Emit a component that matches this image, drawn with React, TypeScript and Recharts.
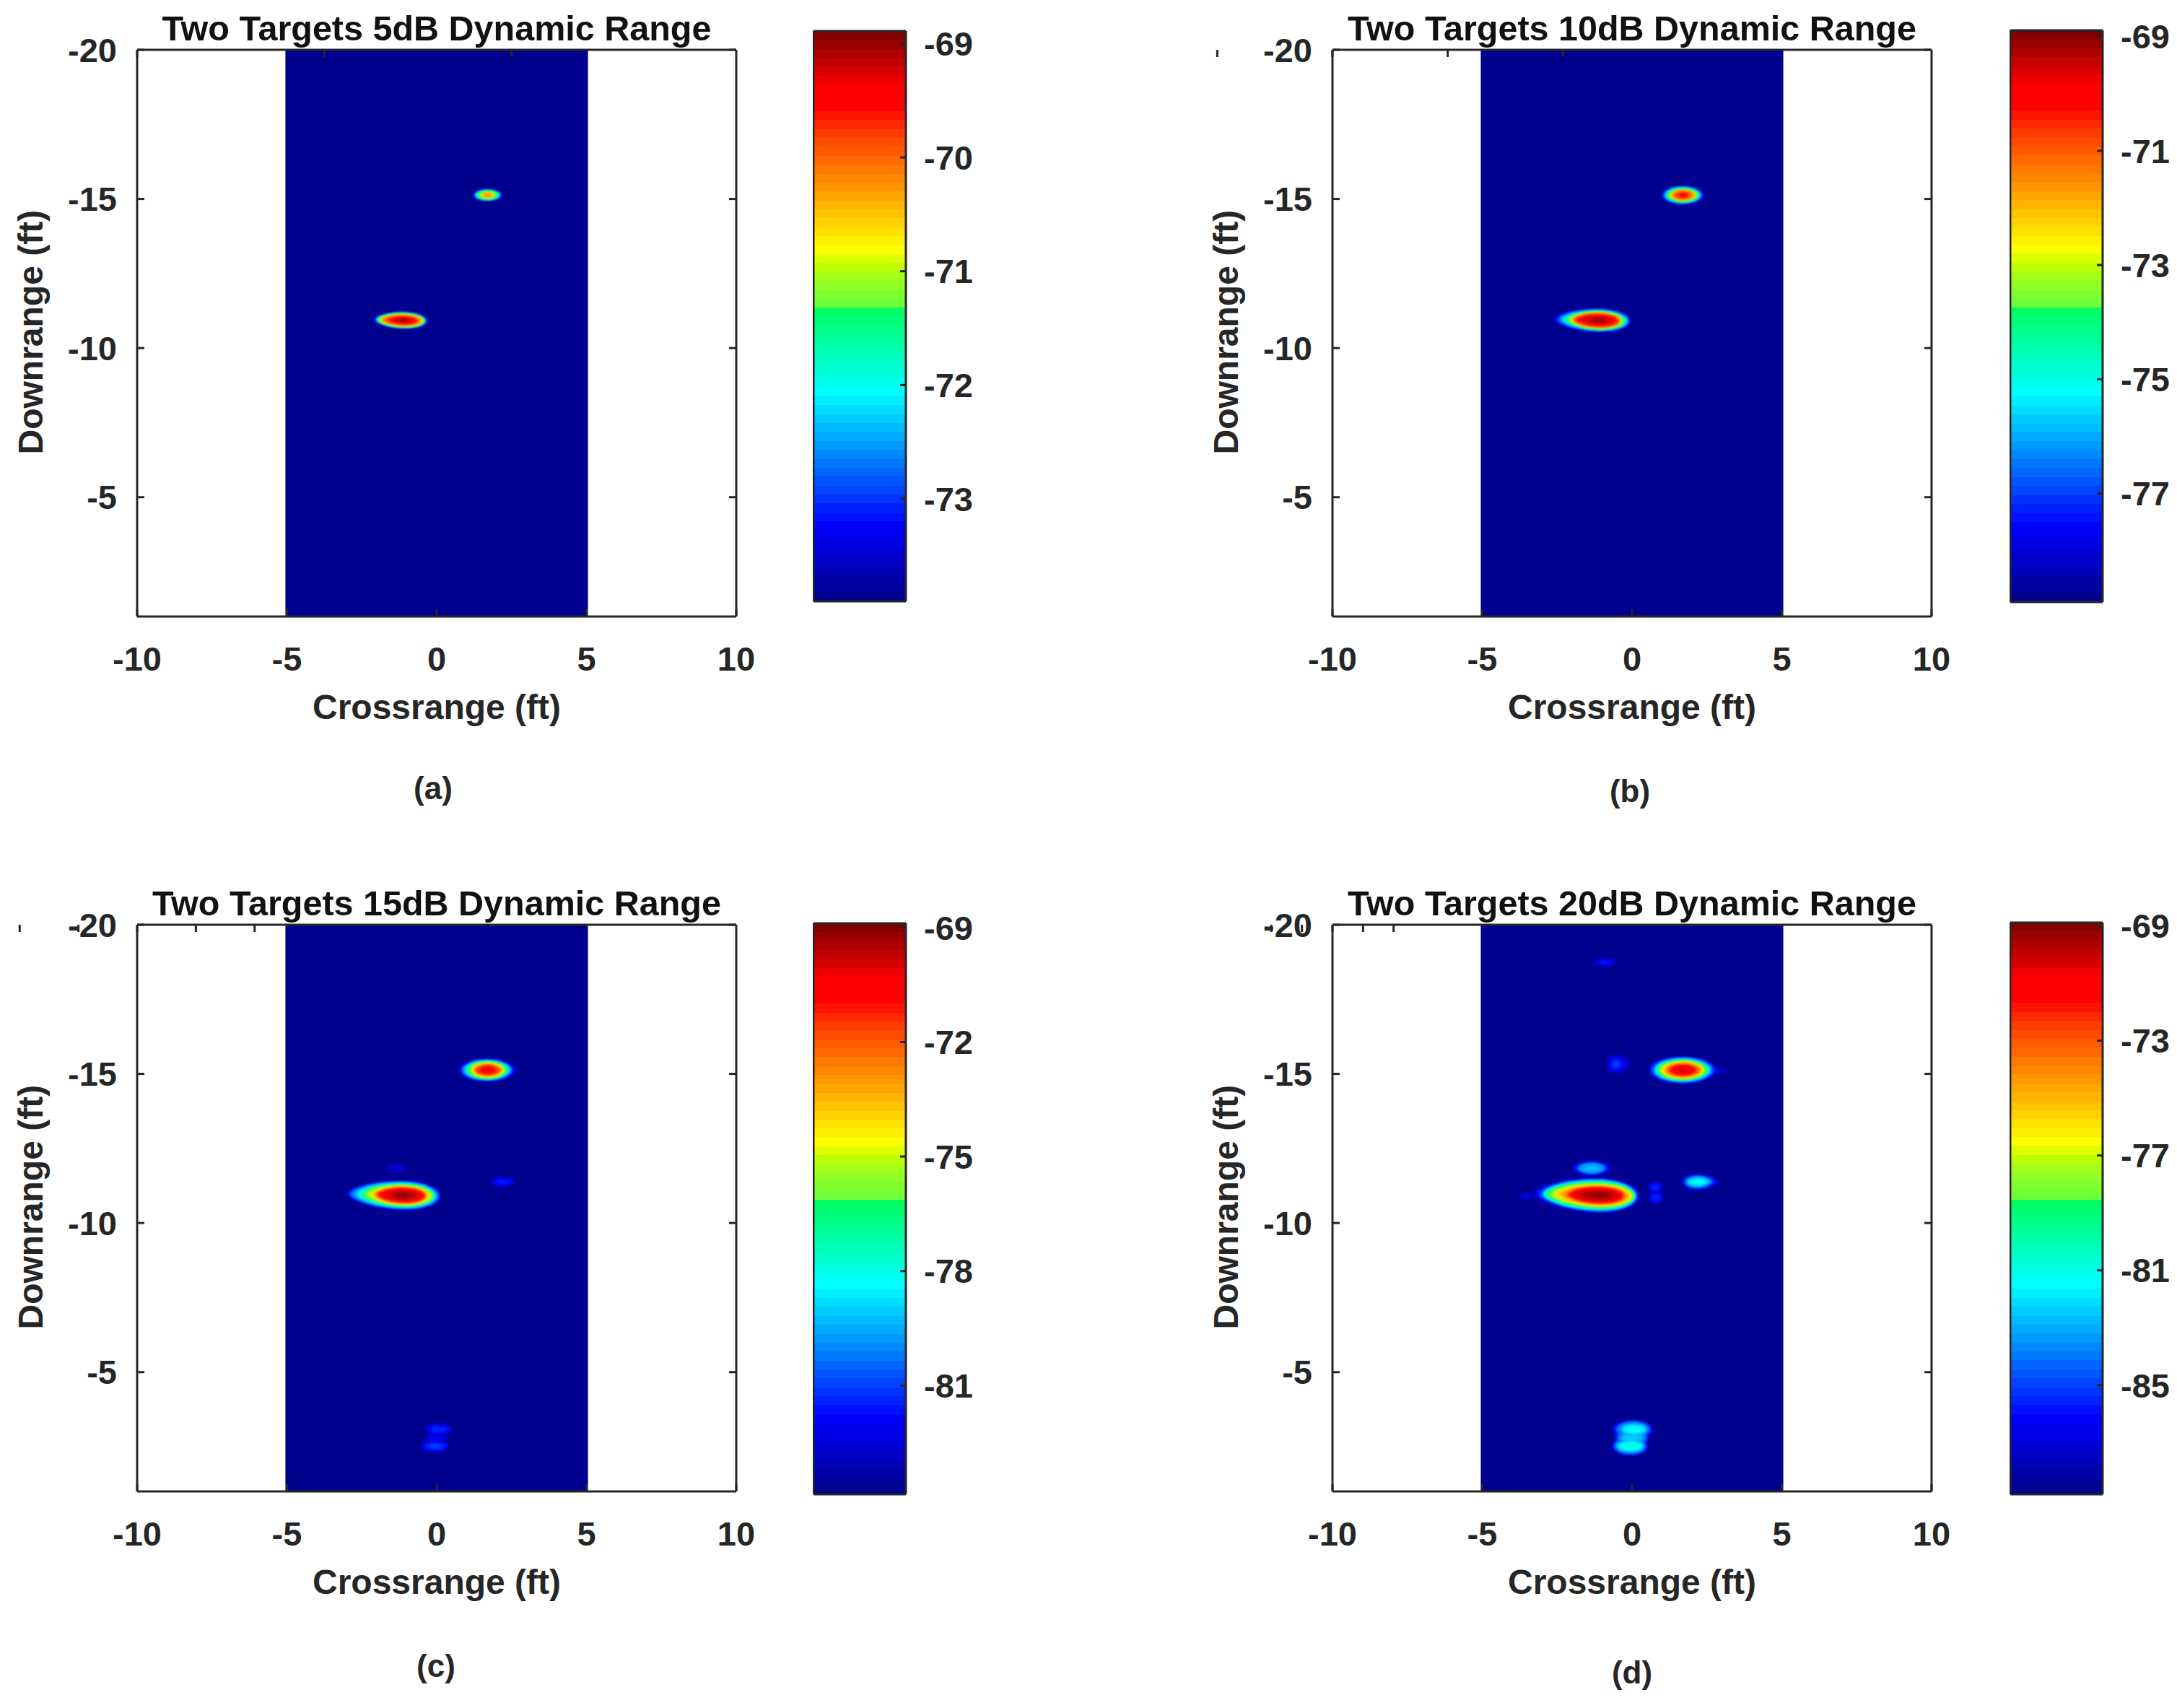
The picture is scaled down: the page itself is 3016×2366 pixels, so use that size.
import { ComposedChart, ReferenceArea, Scatter, XAxis, YAxis } from 'recharts';

const crossTicks = [-10, -5, 0, 5, 10];
const downTicks = [-20, -15, -10, -5];
const downDomain = [-20, -1];
const swathEdges = [-5.05, 5.05];

// colorbar steps, bottom to top
const palette = [
  '#00008f', '#00009d', '#0000ab', '#0000b9', '#0000c7', '#0000d5', '#0000e3', '#0000f1',
  '#0000ff', '#0011ff', '#0022ff', '#0033ff', '#0044ff', '#0055ff', '#0066ff', '#0077ff',
  '#0088ff', '#0099ff', '#00aaff', '#00bbff', '#00ccff', '#00ddff', '#00eeff', '#00ffff',
  '#00ffee', '#00ffdd', '#00ffcc', '#00ffbb', '#00ffaa', '#00ff99', '#00ff88', '#00ff77',
  '#00ff64', '#70ff38', '#80ff30', '#91ff28', '#a5ff19', '#bfff05', '#deff00', '#ffff00',
  '#fff000', '#ffe100', '#ffd200', '#ffc300', '#ffb400', '#ffa500', '#ff9600', '#ff8700',
  '#ff7800', '#ff6900', '#ff5a00', '#ff4b00', '#ff3c00', '#ff2800', '#ff1400', '#ff0000',
  '#ff0000', '#ff0000', '#f00000', '#d70000', '#c30000', '#af0000', '#9b0000', '#820000',
];

// contour rows: [level dB, left ft, right ft, half height ft]
const nearTarget = [
  [-89, 2.25, 1.36, 0.58], [-88, 2.2, 1.35, 0.57], [-87, 2.15, 1.33, 0.56], [-86, 2.08, 1.3, 0.55],
  [-85, 2.0, 1.28, 0.53], [-84, 1.9, 1.24, 0.52], [-83, 1.88, 1.22, 0.5], [-82, 1.85, 1.2, 0.48],
  [-81, 1.82, 1.18, 0.46], [-80, 1.75, 1.15, 0.44], [-79, 1.62, 1.08, 0.42], [-78, 1.52, 1.05, 0.4],
  [-77, 1.42, 1.0, 0.37], [-76, 1.32, 0.97, 0.35], [-75, 1.2, 0.93, 0.32], [-74, 1.08, 0.83, 0.3],
  [-73.5, 1.02, 0.8, 0.28], [-73, 0.97, 0.77, 0.27], [-72, 0.92, 0.72, 0.25], [-71.5, 0.88, 0.7, 0.24],
  [-71, 0.84, 0.68, 0.22], [-70.5, 0.78, 0.62, 0.2], [-70, 0.7, 0.55, 0.17], [-69.5, 0.55, 0.45, 0.13],
  [-69.2, 0.35, 0.3, 0.08], [-69, 0.15, 0.15, 0.04],
];
const farTarget = [
  [-89, 1.15, 1.12, 0.46], [-88, 1.14, 1.11, 0.45], [-87, 1.12, 1.1, 0.44], [-86, 1.1, 1.08, 0.43],
  [-85, 1.06, 1.04, 0.42], [-84, 1.0, 0.98, 0.4], [-83, 0.96, 0.94, 0.38], [-82, 0.93, 0.9, 0.36],
  [-81, 0.88, 0.84, 0.34], [-80, 0.84, 0.8, 0.33], [-79, 0.78, 0.74, 0.32], [-78, 0.72, 0.7, 0.3],
  [-77, 0.68, 0.65, 0.29], [-76, 0.62, 0.6, 0.27], [-75, 0.57, 0.57, 0.25], [-74, 0.52, 0.52, 0.23],
  [-73, 0.47, 0.47, 0.2], [-72, 0.42, 0.42, 0.17], [-71.5, 0.36, 0.36, 0.15], [-71, 0.28, 0.28, 0.13],
  [-70.5, 0.19, 0.19, 0.09], [-70.2, 0.12, 0.12, 0.05], [-70, 0.05, 0.05, 0.02],
];
const rightLobe = [[-88, 0.55, 0.75, 0.27], [-86, 0.5, 0.65, 0.24], [-84, 0.45, 0.5, 0.2], [-83, 0.38, 0.42, 0.17], [-82, 0.32, 0.35, 0.13], [-81.5, 0.15, 0.18, 0.05]];
const upperGhost = [[-88, 0.72, 0.68, 0.33], [-86, 0.68, 0.62, 0.3], [-84, 0.58, 0.55, 0.27], [-83, 0.45, 0.45, 0.22], [-82, 0.38, 0.42, 0.15], [-81.5, 0.25, 0.3, 0.09]];
const lowerGhost = [[-88, 0.62, 0.6, 0.33], [-86, 0.6, 0.58, 0.3], [-84, 0.55, 0.52, 0.27], [-83, 0.48, 0.45, 0.22], [-82, 0.42, 0.42, 0.17], [-81.5, 0.34, 0.34, 0.12], [-81, 0.18, 0.18, 0.06]];
const ghostBridge = [[-88, 0.6, 0.6, 0.3], [-86, 0.55, 0.55, 0.28], [-84, 0.5, 0.5, 0.25], [-83, 0.4, 0.4, 0.15], [-82.5, 0.32, 0.32, 0.1]];
const topSpeck = [[-88, 0.42, 0.42, 0.15], [-87, 0.3, 0.3, 0.11], [-86, 0.15, 0.15, 0.06]];
const farLeftLobe = [[-88, 0.33, 0.5, 0.33], [-87, 0.28, 0.38, 0.27], [-86, 0.2, 0.25, 0.2], [-85, 0.1, 0.12, 0.1]];
const nearUpperLobe = [[-88, 0.68, 0.68, 0.27], [-86, 0.6, 0.6, 0.23], [-84, 0.48, 0.48, 0.18], [-83.5, 0.42, 0.42, 0.16], [-83, 0.32, 0.32, 0.12], [-82.7, 0.18, 0.18, 0.06]];
const midSpeck = [[-88, 0.25, 0.25, 0.22], [-87, 0.22, 0.22, 0.18], [-86, 0.17, 0.17, 0.13], [-85.5, 0.1, 0.1, 0.06]];
const faintSpeck = [[-88.4, 0.2, 0.2, 0.04]];
const nearTail = [[-88.5, 0.35, 0.45, 0.1], [-87, 0.25, 0.3, 0.07], [-86.5, 0.12, 0.15, 0.04]];
const farTail = [[-88.5, 0.3, 0.4, 0.1], [-87, 0.2, 0.3, 0.07], [-86.3, 0.1, 0.15, 0.04]];

const lobes = [
  { x: -1.1, y: -10.93, tipL: 0.4, tipR: 0.55, rot: 1.5, rows: nearTarget },
  { x: 1.7, y: -15.13, tipL: 0.55, tipR: 0.5, rot: 0, rows: farTarget },
  { x: 2.2, y: -11.38, tipL: 0.5, tipR: 0.25, rot: -1, rows: rightLobe },
  { x: 0.05, y: -3.08, tipL: 0.55, tipR: 0.55, rot: 0, rows: upperGhost },
  { x: -0.05, y: -2.52, tipL: 0.55, tipR: 0.55, rot: 0, rows: lowerGhost },
  { x: 0, y: -2.8, tipL: 0.55, tipR: 0.55, rot: 0, rows: ghostBridge },
  { x: -0.92, y: -18.74, tipL: 0.55, tipR: 0.55, rot: 0, rows: topSpeck },
  { x: -0.53, y: -15.33, tipL: 0.55, tipR: 0.3, rot: 0, rows: farLeftLobe },
  { x: -1.35, y: -11.84, tipL: 0.45, tipR: 0.45, rot: 0, rows: nearUpperLobe },
  { x: 0.77, y: -11.19, tipL: 0.55, tipR: 0.55, rot: 0, rows: midSpeck },
  { x: 0.8, y: -10.85, tipL: 0.55, tipR: 0.55, rot: 0, rows: midSpeck },
  { x: -1.85, y: -15.9, tipL: 0.55, tipR: 0.55, rot: 0, rows: faintSpeck },
  { x: -3.55, y: -10.9, tipL: 0.4, tipR: 0.4, rot: 0, rows: nearTail },
  { x: 2.85, y: -15.1, tipL: 0.55, tipR: 0.2, rot: 0, rows: farTail },
];

const panels = [
  { title: 'Two Targets 5dB Dynamic Range', tag: '(a)', plotX: 190, plotY: 69, barX: 1127, barY: 43, barH: 789, clim: [-73.9, -68.89], barTicks: [-69, -70, -71, -72, -73], tagX: 600, tagY: 1092, spread: 1 },
  { title: 'Two Targets 10dB Dynamic Range', tag: '(b)', plotX: 1846, plotY: 69, barX: 2785, barY: 42, barH: 791, clim: [-78.9, -68.89], barTicks: [-69, -71, -73, -75, -77], tagX: 2258, tagY: 1096, spread: 1 },
  { title: 'Two Targets 15dB Dynamic Range', tag: '(c)', plotX: 190, plotY: 1281, barX: 1127, barY: 1279, barH: 790, clim: [-83.85, -68.89], barTicks: [-69, -72, -75, -78, -81], tagX: 604, tagY: 2308, spread: 1 },
  { title: 'Two Targets 20dB Dynamic Range', tag: '(d)', plotX: 1846, plotY: 1281, barX: 2785, barY: 1278, barH: 791, clim: [-88.8, -68.89], barTicks: [-69, -73, -77, -81, -85], tagX: 2261, tagY: 2317, spread: 1.1 },
];

const INK = '#262626';
const FONT = '"Liberation Sans", Arial, sans-serif';
const PLOT_W = 830;
const PLOT_H = 785;
const FT_X = PLOT_W / 20;
const FT_Y = PLOT_H / 19;
const BAR_PAD = 30;
const TICK_LEN = 10;
const tickStyle = { fontFamily: FONT, fontWeight: 700, fontSize: 47, fill: INK };
const labelStyle = { fontFamily: FONT, fontWeight: 700, fontSize: 48, fill: INK };
const titleStyle = { fontFamily: FONT, fontWeight: 700, fontSize: 48.5, fill: '#111' };
const rule = { stroke: INK, strokeWidth: 3 };

// inward tick mark plus optional label, Recharts puts x/y at the label anchor
function inwardTick(side: string, gap: number, showLabel: boolean, len = TICK_LEN) {
  return (props: any) => {
    const { x, y, payload, textAnchor } = props;
    let mark = { x1: x, x2: x, y1: y, y2: y };
    if (side === 'bottom') mark = { x1: x, x2: x, y1: y - gap, y2: y - gap - len };
    if (side === 'top') mark = { x1: x, x2: x, y1: y + gap, y2: y + gap + len };
    if (side === 'left') mark = { x1: x + gap, x2: x + gap + len, y1: y, y2: y };
    if (side === 'right') mark = { x1: x - gap, x2: x - gap - len, y1: y, y2: y };
    return (
      <g>
        <line {...mark} {...rule} />
        {showLabel && (
          <text x={x} y={y} dy={side === 'bottom' ? '0.71em' : '0.355em'} textAnchor={textAnchor} {...tickStyle}>
            {payload.value}
          </text>
        )}
      </g>
    );
  };
}

function levelColor(level: number, clim: number[]) {
  const t = (level - clim[0]) / (clim[1] - clim[0]);
  const i = Math.min(palette.length - 1, Math.max(0, Math.round(t * (palette.length - 1))));
  return palette[i];
}

function contoursFor(clim: number[], spread: number) {
  const out: any[] = [];
  lobes.forEach((lobe) => {
    lobe.rows.forEach(([level, left, right, half]) => {
      if (level <= clim[0]) return;
      const s = level > -80 ? spread : 1;
      out.push({ x: lobe.x, y: lobe.y, level, left: left * s, right: right * s, half, tipL: lobe.tipL, tipR: lobe.tipR, rot: lobe.rot, color: levelColor(level, clim) });
    });
  });
  return out.sort((a, b) => a.level - b.level);
}

function Contour(props: any) {
  const { cx, cy, payload: p } = props;
  const L = p.left * FT_X;
  const R = p.right * FT_X;
  const H = p.half * FT_Y;
  const k = 0.55;
  const d = `M0,${-H} C${R * k},${-H} ${R},${-H * p.tipR} ${R},0 C${R},${H * p.tipR} ${R * k},${H} 0,${H} C${-L * k},${H} ${-L},${H * p.tipL} ${-L},0 C${-L},${-H * p.tipL} ${-L * k},${-H} 0,${-H} Z`;
  return <path d={d} transform={`translate(${cx},${cy}) rotate(${p.rot})`} fill={p.color} style={{ filter: 'blur(1.5px)' }} />;
}

function RangePlot({ panel }: { panel: any }) {
  const rows = contoursFor(panel.clim, panel.spread);
  return (
    <div style={{ position: 'absolute', left: panel.plotX - 190, top: panel.plotY - 69 }}>
      <ComposedChart width={1100} height={1040} margin={{ top: 68, right: 79, bottom: 40, left: 90 }} data={rows}>
        <ReferenceArea x1={swathEdges[0]} x2={swathEdges[1]} y1={downDomain[0]} y2={downDomain[1]} fill={palette[0]} fillOpacity={1} stroke="none" />
        <Scatter data={rows} dataKey="y" isAnimationActive={false} shape={Contour} />
        <XAxis
          type="number"
          dataKey="x"
          domain={[-10, 10]}
          ticks={crossTicks}
          height={146}
          interval={0}
          allowDataOverflow
          axisLine={rule}
          tickLine={false}
          tickSize={0}
          tickMargin={42}
          tick={inwardTick('bottom', 42, true)}
          label={{ value: 'Crossrange (ft)', position: 'insideBottom', offset: 0, dy: -4, style: labelStyle }}
        />
        <XAxis
          xAxisId="top"
          orientation="top"
          type="number"
          domain={[-10, 10]}
          ticks={crossTicks}
          height={1}
          interval={0}
          allowDataOverflow
          axisLine={rule}
          tickLine={false}
          tickSize={0}
          tickMargin={0}
          tick={inwardTick('top', 0, false)}
          label={{ value: panel.title, position: 'top', offset: 12, style: titleStyle }}
        />
        <YAxis
          type="number"
          dataKey="y"
          reversed
          domain={downDomain}
          ticks={downTicks}
          width={100}
          interval={0}
          allowDataOverflow
          axisLine={rule}
          tickLine={false}
          tickSize={0}
          tickMargin={28}
          tick={inwardTick('left', 28, true)}
          label={{ value: 'Downrange (ft)', angle: -90, position: 'insideLeft', dx: -53, dy: 168, style: labelStyle }}
        />
        <YAxis
          yAxisId="right"
          orientation="right"
          type="number"
          reversed
          domain={downDomain}
          ticks={downTicks}
          width={1}
          interval={0}
          allowDataOverflow
          axisLine={rule}
          tickLine={false}
          tickSize={0}
          tickMargin={0}
          tick={inwardTick('right', 0, false)}
        />
      </ComposedChart>
    </div>
  );
}

function Colorbar({ panel }: { panel: any }) {
  const [lo, hi] = panel.clim;
  const step = (hi - lo) / palette.length;
  return (
    <div style={{ position: 'absolute', left: panel.barX - 1, top: panel.barY - 1 - BAR_PAD }}>
      <ComposedChart width={231} height={panel.barH + 3 + BAR_PAD * 2} margin={{ top: BAR_PAD, right: 0, bottom: BAR_PAD, left: 0 }} data={[{ x: 0 }, { x: 1 }]}>
        {palette.map((color, i) => (
          <ReferenceArea key={color + i} x1={0} x2={1} y1={lo + i * step} y2={lo + (i + 1) * step} fill={color} fillOpacity={1} stroke="none" shapeRendering="crispEdges" />
        ))}
        <XAxis type="number" dataKey="x" domain={[0, 1]} ticks={[0, 1]} height={1} allowDataOverflow axisLine={rule} tick={false} tickLine={false} />
        <XAxis xAxisId="top" orientation="top" type="number" domain={[0, 1]} ticks={[0, 1]} height={1} allowDataOverflow axisLine={rule} tick={false} tickLine={false} />
        <YAxis type="number" domain={[lo, hi]} ticks={[lo, hi]} width={1} allowDataOverflow axisLine={rule} tick={false} tickLine={false} />
        <YAxis
          yAxisId="right"
          orientation="right"
          type="number"
          domain={[lo, hi]}
          ticks={panel.barTicks}
          width={102}
          interval={0}
          allowDataOverflow
          axisLine={rule}
          tickLine={false}
          tickSize={0}
          tickMargin={25}
          tick={inwardTick('right', 25, true, 8)}
        />
      </ComposedChart>
    </div>
  );
}

export default function App() {
  return (
    <div style={{ position: 'absolute', left: 0, top: 0, width: 3016, height: 2366, background: '#fff', overflow: 'hidden' }}>
      {panels.map((panel) => (
        <div key={panel.tag}>
          <RangePlot panel={panel} />
          <Colorbar panel={panel} />
          <div style={{ position: 'absolute', left: panel.tagX - 50, width: 100, top: panel.tagY - 24, height: 48, lineHeight: '48px', textAlign: 'center', fontFamily: FONT, fontWeight: 700, fontSize: 44, color: INK }}>
            {panel.tag}
          </div>
        </div>
      ))}
    </div>
  );
}
